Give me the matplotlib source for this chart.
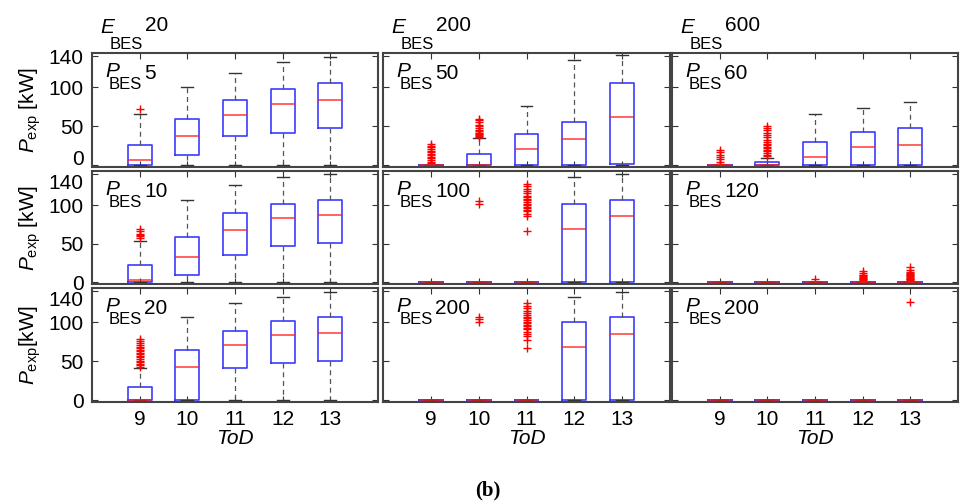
import matplotlib
matplotlib.use('Agg')
import matplotlib.pyplot as plt

# Time of day categories (x axis)
tod = [9, 10, 11, 12, 13]
e_labels = ['20', '200', '600']
p_labels = [['5', '10', '20'], ['50', '100', '200'], ['60', '120', '200']]

# ---- E_BES 20 ----
e20p5_q1 = [0, 14, 37.5, 42, 47.5]
e20p5_med = [7.5, 38, 65, 78.5, 84]
e20p5_q3 = [26, 59, 84, 98, 106]
e20p5_whi = [66, 100, 119, 133, 139]
e20p5_fliers = [[72], [], [], [], []]

e20p10_q1 = [0, 9, 35, 47, 51.5]
e20p10_med = [3.5, 33, 68, 83, 87]
e20p10_q3 = [22, 58.5, 89.5, 102, 106.5]
e20p10_whi = [54, 106.5, 126, 136, 140]
e20p10_fliers = [[58, 60, 61, 63, 66, 69], [], [], [], []]

e20p20_q1 = [0, 0, 42, 48, 50.5]
e20p20_med = [0, 43, 70.5, 83.5, 86]
e20p20_q3 = [17, 64, 89.5, 101.5, 107]
e20p20_whi = [41, 107, 125, 133, 139]
e20p20_fliers = [[43, 45, 47, 49, 51, 53, 55, 57, 59, 61, 63, 65, 67, 69, 71, 73, 76, 79],
                 [], [], [], []]

# ---- E_BES 200 ----
e200p50_q1 = [0, 0, 0, 0, 1.5]
e200p50_med = [0, 0, 21, 34, 62]
e200p50_q3 = [0, 14.5, 40, 55, 105]
e200p50_whi = [0, 35, 75.5, 135, 141]
e200p50_fliers = [[1, 3, 5, 7, 9, 11, 13, 15, 17, 19, 21, 23, 25, 28],
                  [36, 38, 39, 40, 41, 42, 44, 46, 48, 50, 52, 55, 58, 60],
                  [], [], []]

e200p100_q1 = [0, 0, 0, 0, 0]
e200p100_med = [0, 0, 0, 68.5, 86]
e200p100_q3 = [0, 0, 0, 102, 106]
e200p100_whi = [0, 0, 0, 136, 140]
e200p100_fliers = [[], [102, 105],
                   [67, 86, 89, 92, 94, 96, 98, 100, 102, 104, 106, 108, 110,
                    112, 115, 118, 121, 124, 127],
                   [], []]

e200p200_q1 = [0, 0, 0, 0, 0]
e200p200_med = [0, 0, 0, 68, 85.5]
e200p200_q3 = [0, 0, 0, 101, 107]
e200p200_whi = [0, 0, 0, 133, 139]
e200p200_fliers = [[], [101, 104, 107],
                   [67, 78, 82, 85, 88, 91, 93, 95, 97, 99, 101, 103, 105, 107,
                    109, 112, 115, 118, 121, 125],
                   [], []]

# ---- E_BES 600 ----
e600p60_q1 = [0, 0, 0, 0, 0]
e600p60_med = [0, 0, 11, 24, 26]
e600p60_q3 = [0, 4.5, 30, 43, 48]
e600p60_whi = [0, 10, 66, 74, 81]
e600p60_fliers = [[2, 5, 8, 11, 14, 17, 20],
                  [12, 14, 16, 18, 20, 22, 24, 26, 28, 30, 33, 36, 39, 42, 45, 48, 50],
                  [], [], []]

e600p120_q1 = [0, 0, 0, 0, 0]
e600p120_med = [0, 0, 0, 0, 0]
e600p120_q3 = [0, 0, 0, 0, 0]
e600p120_whi = [0, 0, 0, 0, 0]
e600p120_fliers = [[], [], [4],
                   [2, 3, 4, 5, 6, 7, 8, 9, 10, 12, 15],
                   [2, 3, 4, 5, 6, 7, 8, 9, 10, 11, 12, 14, 16, 20]]

e600p200_q1 = [0, 0, 0, 0, 0]
e600p200_med = [0, 0, 0, 0, 0]
e600p200_q3 = [0, 0, 0, 0, 0]
e600p200_whi = [0, 0, 0, 0, 0]
e600p200_fliers = [[], [], [], [], [126]]

panels = [
    [(e20p5_q1, e20p5_med, e20p5_q3, e20p5_whi, e20p5_fliers),
     (e20p10_q1, e20p10_med, e20p10_q3, e20p10_whi, e20p10_fliers),
     (e20p20_q1, e20p20_med, e20p20_q3, e20p20_whi, e20p20_fliers)],
    [(e200p50_q1, e200p50_med, e200p50_q3, e200p50_whi, e200p50_fliers),
     (e200p100_q1, e200p100_med, e200p100_q3, e200p100_whi, e200p100_fliers),
     (e200p200_q1, e200p200_med, e200p200_q3, e200p200_whi, e200p200_fliers)],
    [(e600p60_q1, e600p60_med, e600p60_q3, e600p60_whi, e600p60_fliers),
     (e600p120_q1, e600p120_med, e600p120_q3, e600p120_whi, e600p120_fliers),
     (e600p200_q1, e600p200_med, e600p200_q3, e600p200_whi, e600p200_fliers)],
]

plt.rcParams.update({
    'font.family': ['Liberation Sans', 'DejaVu Sans'],
    'mathtext.fontset': 'custom',
    'mathtext.rm': 'Liberation Sans',
    'mathtext.it': 'Liberation Sans:italic',
    'mathtext.bf': 'Liberation Sans:bold',
})

W, H = 960, 503
fig = plt.figure(figsize=(W / 100, H / 100), dpi=100)

# panel placement in pixels
col_x = [92, 383, 672]
col_w = [286, 287, 286]
row_y = [(53, 167), (171, 284), (288, 402)]

# labels drawn as three pieces: italic letter, BES, number
pending = []

for c in range(3):
    for r in range(3):
        yt, yb = row_y[r]
        ax = fig.add_axes([col_x[c] / W, 1 - yb / H, col_w[c] / W, (yb - yt) / H])
        q1, med, q3, whi, fl = panels[c][r]
        stats = [dict(whislo=0, q1=q1[i], med=med[i], q3=q3[i], whishi=whi[i],
                      fliers=fl[i]) for i in range(len(tod))]
        ax.bxp(stats, positions=tod, widths=0.5, capwidths=0.25,
               boxprops=dict(color='#3b3bff', lw=1.2),
               medianprops=dict(color='#ff1a1a', lw=1.2, alpha=0.8),
               whiskerprops=dict(color='#555555', lw=0.9, ls=(0, (4, 3))),
               capprops=dict(color='#333333', lw=1.0),
               flierprops=dict(marker='+', markeredgecolor='red', markersize=6,
                               markeredgewidth=1.0, linestyle='none'))
        ax.set_xlim(8, 14)
        ax.set_ylim(-2, 144)
        ax.set_xticks(tod)
        ax.set_xticklabels([str(t) for t in tod])
        ax.set_yticks([0, 50, 100, 140])
        ax.tick_params(direction='in', top=True, right=True, length=4,
                       width=0.8, color='#333333', labelsize=15, pad=6,
                       labelleft=(c == 0), labelbottom=(r == 2))
        if c == 0:
            yt_list = ax.yaxis.get_major_ticks()
            if r == 0:
                yt_list[0].label1.set_verticalalignment('baseline')
            else:
                yt_list[3].label1.set_verticalalignment('top')
        for sp in ax.spines.values():
            sp.set_color('#444444')
            sp.set_linewidth(1.5)

        x0 = col_x[c]
        pending.append(('P', x0 + 13, yt + 9, x0 + 17, yt + 24, yt + 11, p_labels[c][r]))
        if r == 0:
            pending.append(('E', x0 + 8, yt - 35, x0 + 18, yt - 16, yt - 37, e_labels[c]))

        if c == 0:
            lbl = r'$P_{\mathrm{exp}}$ [kW]' if r < 2 else r'$P_{\mathrm{exp}}$[kW]'
            ax.set_ylabel(lbl, fontsize=15)
            ax.yaxis.set_label_coords(-0.17, 0.5)
        if r == 2:
            ax.set_xlabel('ToD', fontsize=15, style='italic', labelpad=0)

# letter + subscript "BES" + value, placed in figure pixels (from top-left)
subs = []
for sym, lx, ly, bx, by, ny, num in pending:
    fig.text(lx / W, 1 - ly / H, sym, fontsize=15, style='italic',
             ha='left', va='top')
    t = fig.text(bx / W, 1 - by / H, 'BES', fontsize=12, ha='left', va='top')
    subs.append((t, ny, num))

fig.canvas.draw()
for t, ny, num in subs:
    x1 = t.get_window_extent().x1
    fig.text((x1 + 2) / W, 1 - ny / H, num, fontsize=15, ha='left', va='top')

fig.text(488 / W, 1 - 490 / H, '(b)', ha='center', va='center',
         fontsize=15, fontweight='bold', family='Liberation Serif')

fig.savefig('out.png', dpi=100)
